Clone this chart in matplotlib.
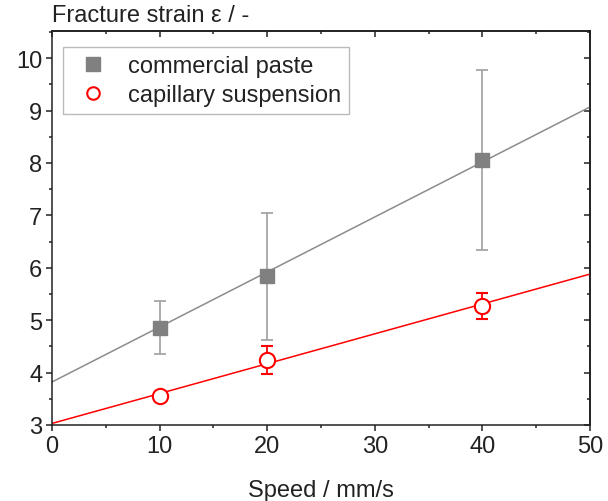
import matplotlib
matplotlib.use("Agg")
import matplotlib.pyplot as plt
import numpy as np
from matplotlib.ticker import MultipleLocator
from matplotlib.lines import Line2D

plt.rcParams['font.family'] = ['Liberation Sans', 'DejaVu Sans']

# data
speed = [10, 20, 40]
paste_strain = [4.86, 5.84, 8.06]
paste_err = [0.51, 1.21, 1.72]
susp_strain = [3.56, 4.24, 5.27]
susp_err = [0.05, 0.26, 0.25]

# linear fits (intercept, slope)
paste_fit = [3.82, 0.105]
susp_fit = [3.03, 0.057]
fit_x = [0, 50]

fig = plt.figure(figsize=(6.08, 5.02), dpi=100)
ax = fig.add_axes([0.0855, 0.1514, 0.885, 0.785])

xx = np.array(fit_x)
ax.plot(xx, paste_fit[0] + paste_fit[1] * xx, color='#8c8c8c', lw=1.1, zorder=2)
ax.plot(xx, susp_fit[0] + susp_fit[1] * xx, color='#ff0000', lw=1.1, zorder=2)

ax.errorbar(speed, paste_strain, yerr=paste_err, fmt='s', color='#808080',
            ecolor='#a6a6a6', elinewidth=1.3, capsize=4, capthick=1.3,
            markersize=10, zorder=3)
ax.errorbar(speed, susp_strain, yerr=susp_err, fmt='o', color='#ff0000',
            mfc='white', mec='#ff0000', mew=1.5, elinewidth=1.3, capsize=4,
            capthick=1.3, markersize=11, zorder=3)

ax.set_xlim(0, 50)
ax.set_ylim(3, 10.52)
ax.xaxis.set_major_locator(MultipleLocator(10))
ax.xaxis.set_minor_locator(MultipleLocator(5))
ax.yaxis.set_major_locator(MultipleLocator(1))
ax.yaxis.set_minor_locator(MultipleLocator(0.5))

ax.tick_params(which='both', direction='out', width=1.1, labelsize=17,
               top=False, right=False, colors='#222222')
ax.tick_params(which='major', length=4, pad=3)
ax.tick_params(which='minor', length=2.2)

# inward ticks on top and right
ax2 = ax.secondary_xaxis('top')
ax2.xaxis.set_major_locator(MultipleLocator(10))
ax2.xaxis.set_minor_locator(MultipleLocator(5))
ax2.tick_params(which='both', direction='in', width=1.1, labeltop=False,
                color='#222222')
ax2.tick_params(which='major', length=4)
ax2.tick_params(which='minor', length=2.2)
ay2 = ax.secondary_yaxis('right')
ay2.yaxis.set_major_locator(MultipleLocator(1))
ay2.yaxis.set_minor_locator(MultipleLocator(0.5))
ay2.tick_params(which='both', direction='in', width=1.1, labelright=False,
                color='#222222')
ay2.tick_params(which='major', length=4)
ay2.tick_params(which='minor', length=2.2)

for s in ax.spines.values():
    s.set_linewidth(1.1)
    s.set_color('#222222')
ax2.spines['top'].set_linewidth(1.1)
ay2.spines['right'].set_linewidth(1.1)

ax.set_xlabel('Speed / mm/s', fontsize=17, labelpad=16, color='#222222')
fig.text(0.086, 0.968, 'Fracture strain \u03b5 / -', fontsize=17,
         ha='left', va='center', color='#222222')

handles = [
    Line2D([], [], ls='none', marker='s', color='#808080', markersize=9.5),
    Line2D([], [], ls='none', marker='o', mfc='white', mec='#ff0000',
           mew=1.5, markersize=9),
]
leg = ax.legend(handles, ['commercial paste', 'capillary suspension'],
                loc='upper left', bbox_to_anchor=(0.02, 0.96), fontsize=17,
                frameon=True, fancybox=False, edgecolor='#aaaaaa',
                handletextpad=0.5, borderpad=0.35, labelspacing=0.3,
                handlelength=1.9, borderaxespad=0)
leg.get_frame().set_linewidth(1.0)
for t in leg.get_texts():
    t.set_color('#222222')

fig.savefig('out.png', dpi=100)
